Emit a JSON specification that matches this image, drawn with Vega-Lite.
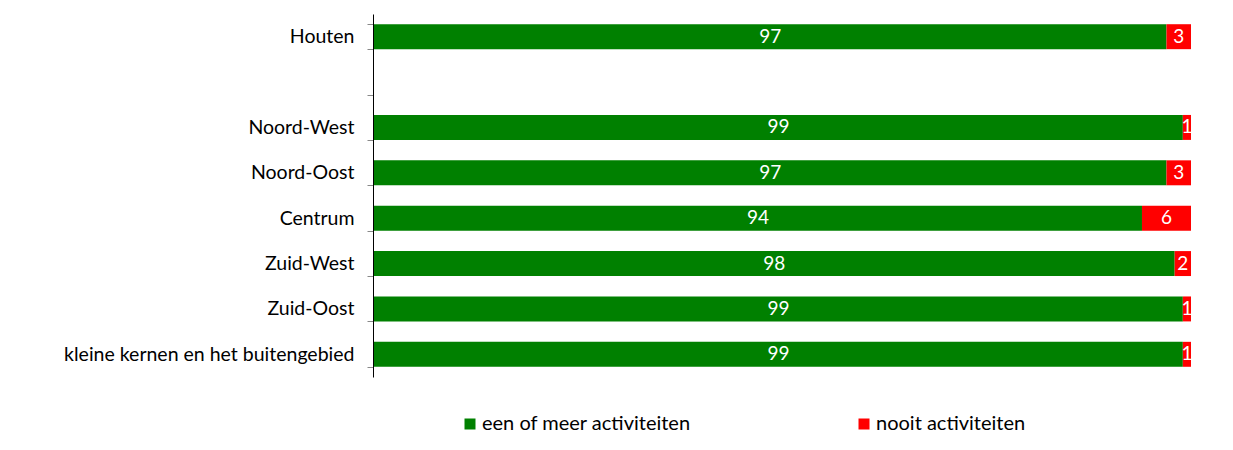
{
  "$schema": "https://vega.github.io/schema/vega-lite/v6.json",
  "autosize": {"type": "none"},
  "width": 817,
  "height": 363,
  "padding": {"left": 374, "top": 14, "right": 42, "bottom": 73},
  "background": "white",
  "config": {
    "font": "Lato",
    "view": {"stroke": null}
  },
  "data": {
    "values": [
      {"gebied": "Houten", "categorie": "een of meer activiteiten", "waarde": 97},
      {"gebied": "Houten", "categorie": "nooit activiteiten", "waarde": 3},
      {"gebied": "Noord-West", "categorie": "een of meer activiteiten", "waarde": 99},
      {"gebied": "Noord-West", "categorie": "nooit activiteiten", "waarde": 1},
      {"gebied": "Noord-Oost", "categorie": "een of meer activiteiten", "waarde": 97},
      {"gebied": "Noord-Oost", "categorie": "nooit activiteiten", "waarde": 3},
      {"gebied": "Centrum", "categorie": "een of meer activiteiten", "waarde": 94},
      {"gebied": "Centrum", "categorie": "nooit activiteiten", "waarde": 6},
      {"gebied": "Zuid-West", "categorie": "een of meer activiteiten", "waarde": 98},
      {"gebied": "Zuid-West", "categorie": "nooit activiteiten", "waarde": 2},
      {"gebied": "Zuid-Oost", "categorie": "een of meer activiteiten", "waarde": 99},
      {"gebied": "Zuid-Oost", "categorie": "nooit activiteiten", "waarde": 1},
      {"gebied": "kleine kernen en het buitengebied", "categorie": "een of meer activiteiten", "waarde": 99},
      {"gebied": "kleine kernen en het buitengebied", "categorie": "nooit activiteiten", "waarde": 1}
    ]
  },
  "transform": [
    {"stack": "waarde", "groupby": ["gebied"], "sort": [{"field": "categorie", "order": "ascending"}], "as": ["v0", "v1"]},
    {"calculate": "(datum.v0 + datum.v1) / 2", "as": "mid"}
  ],
  "encoding": {
    "y": {
      "field": "gebied",
      "type": "nominal",
      "title": null,
      "scale": {
        "domain": ["Houten", " ", "Noord-West", "Noord-Oost", "Centrum", "Zuid-West", "Zuid-Oost", "kleine kernen en het buitengebied"],
        "paddingInner": 0.45,
        "paddingOuter": 0.225
      },
      "axis": {
        "tickBand": "extent",
        "tickSize": 6,
        "tickColor": "#888888",
        "domainColor": "black",
        "labelFontSize": 19.5,
        "labelColor": "black",
        "labelPadding": 13,
        "labelLimit": 400,
        "offset": 1
      }
    }
  },
  "layer": [
    {
      "mark": {"type": "bar"},
      "encoding": {
        "x": {"field": "v0", "type": "quantitative", "scale": {"domain": [0, 100], "nice": false}, "axis": null},
        "x2": {"field": "v1"},
        "color": {
          "field": "categorie",
          "type": "nominal",
          "scale": {"domain": ["een of meer activiteiten", "nooit activiteiten"], "range": ["#008000", "#ff0000"]},
          "legend": {
            "title": null,
            "orient": "none",
            "legendX": 86,
            "legendY": 400,
            "direction": "horizontal",
            "columns": 2,
            "columnPadding": 163,
            "symbolType": "square",
            "symbolSize": 121,
            "symbolStrokeWidth": 0,
            "symbolOpacity": 1,
            "labelFontSize": 20,
            "labelColor": "black",
            "labelOffset": 2,
            "labelLimit": 400
          }
        }
      }
    },
    {
      "mark": {"type": "text", "color": "white", "fontSize": 19, "baseline": "middle", "align": "center"},
      "encoding": {
        "x": {"field": "mid", "type": "quantitative"},
        "text": {"field": "waarde", "type": "quantitative"}
      }
    }
  ]
}
